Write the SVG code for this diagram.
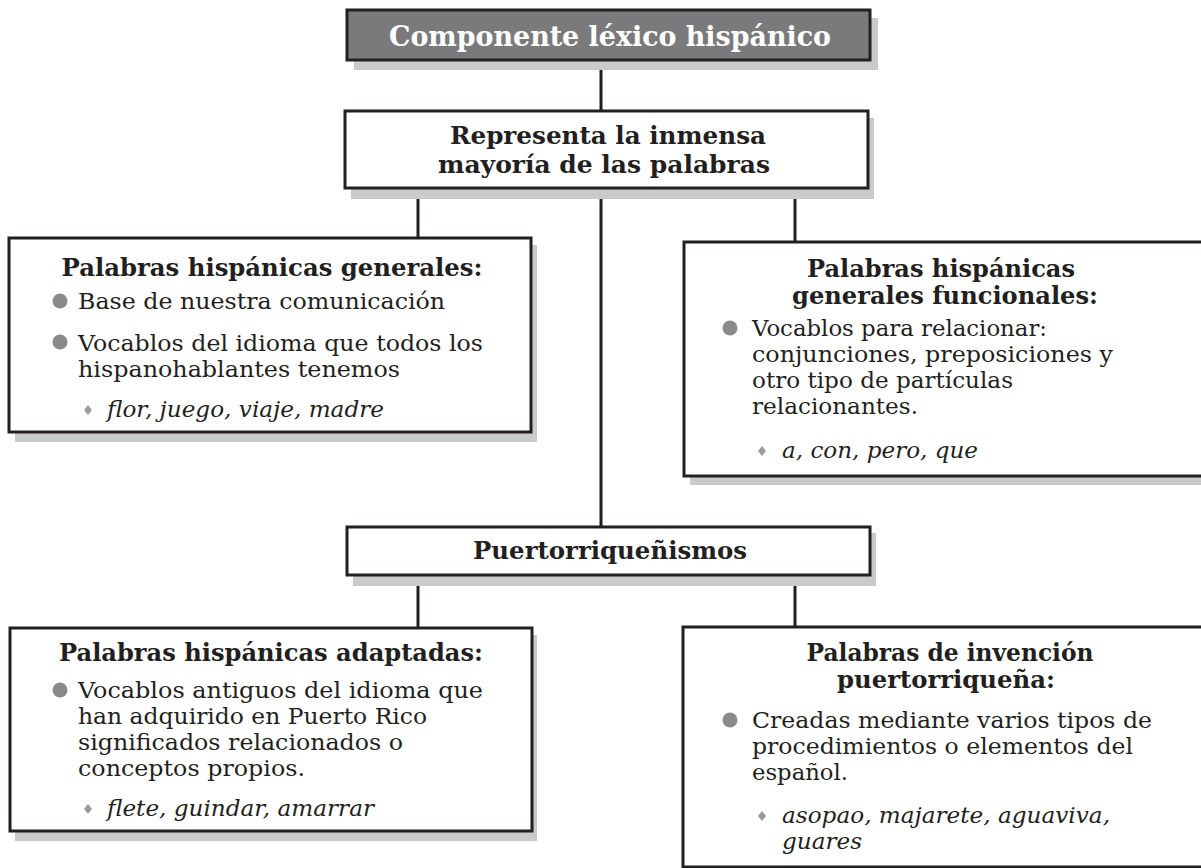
<svg xmlns="http://www.w3.org/2000/svg" width="1201" height="868" viewBox="0 0 1201 868">
<style>
.box{fill:#fff;stroke:#231f20;stroke-width:3}
.dark{fill:#7a7a7c;stroke:#231f20;stroke-width:3}
.sh{fill:#c9cacc}
.con{stroke:#231f20;stroke-width:3;fill:none}
.t{font-family:"DejaVu Serif","Liberation Serif",serif;font-weight:bold;fill:#231f20;font-size:24px;text-anchor:middle}
.tw{font-family:"DejaVu Serif","Liberation Serif",serif;font-weight:bold;fill:#fff;font-size:27px;text-anchor:middle}
.b{font-family:"DejaVu Serif","Liberation Serif",serif;fill:#231f20;font-size:22px;font-weight:300}
.i{font-family:"DejaVu Serif","Liberation Serif",serif;fill:#231f20;font-size:22px;font-style:italic;font-weight:300}
.dot{fill:#8a8a8c}
.dia{fill:#9a9a9c}
</style>
<defs>
<path id="d" d="M0,-5 L4,0 L0,5 L-4,0 Z"/>
</defs>
<g id="connectors">
<line class="con" x1="601" y1="60" x2="601" y2="111"/>
<line class="con" x1="418" y1="188" x2="418" y2="238"/>
<line class="con" x1="601" y1="188" x2="601" y2="527"/>
<line class="con" x1="795" y1="188" x2="795" y2="242"/>
<line class="con" x1="418" y1="575" x2="418" y2="628"/>
<line class="con" x1="795" y1="575" x2="795" y2="627"/>
</g>
<g id="n-top">
<rect class="sh" x="354" y="18" width="524" height="52"/>
<rect class="dark" x="347" y="10" width="523" height="50"/>
<text class="tw" x="610" y="46" textLength="442" lengthAdjust="spacingAndGlyphs">Componente léxico hispánico</text>
</g>
<g id="n-representa">
<rect class="sh" x="351" y="118" width="523" height="81"/>
<rect class="box" x="345" y="111" width="523" height="77"/>
<text class="t" x="608" y="144" textLength="316" lengthAdjust="spacingAndGlyphs">Representa la inmensa</text>
<text class="t" x="604" y="173" textLength="332" lengthAdjust="spacingAndGlyphs">mayoría de las palabras</text>
</g>
<g id="n-generales">
<rect class="sh" x="15" y="245" width="522" height="197"/>
<rect class="box" x="9" y="238" width="522" height="194"/>
<text class="t" x="272" y="276" textLength="421" lengthAdjust="spacingAndGlyphs">Palabras hispánicas generales:</text>
<circle class="dot" cx="60" cy="301" r="7.5"/>
<text class="b" x="78" y="309" textLength="367" lengthAdjust="spacingAndGlyphs">Base de nuestra comunicación</text>
<circle class="dot" cx="60" cy="342" r="7.5"/>
<text class="b" x="78" y="351" textLength="405" lengthAdjust="spacingAndGlyphs">Vocablos del idioma que todos los</text>
<text class="b" x="78" y="377" textLength="322" lengthAdjust="spacingAndGlyphs">hispanohablantes tenemos</text>
<use href="#d" class="dia" x="88" y="410"/>
<text class="i" x="107" y="417" textLength="277" lengthAdjust="spacingAndGlyphs">flor, juego, viaje, madre</text>
</g>
<g id="n-funcionales">
<rect class="sh" x="690" y="249" width="520" height="236"/>
<rect class="box" x="684" y="242" width="530" height="234"/>
<text class="t" x="941" y="277" textLength="268" lengthAdjust="spacingAndGlyphs">Palabras hispánicas</text>
<text class="t" x="945" y="304" textLength="306" lengthAdjust="spacingAndGlyphs">generales funcionales:</text>
<circle class="dot" cx="730" cy="328" r="7.5"/>
<text class="b" x="752" y="336" textLength="295" lengthAdjust="spacingAndGlyphs">Vocablos para relacionar:</text>
<text class="b" x="752" y="362" textLength="361" lengthAdjust="spacingAndGlyphs">conjunciones, preposiciones y</text>
<text class="b" x="752" y="388" textLength="261" lengthAdjust="spacingAndGlyphs">otro tipo de partículas</text>
<text class="b" x="752" y="414" textLength="166" lengthAdjust="spacingAndGlyphs">relacionantes.</text>
<use href="#d" class="dia" x="762" y="451"/>
<text class="i" x="782" y="458" textLength="196" lengthAdjust="spacingAndGlyphs">a, con, pero, que</text>
</g>
<g id="n-puerto">
<rect class="sh" x="353" y="533" width="523" height="53"/>
<rect class="box" x="347" y="527" width="523" height="48"/>
<text class="t" x="610" y="559" textLength="274" lengthAdjust="spacingAndGlyphs">Puertorriqueñismos</text>
</g>
<g id="n-adaptadas">
<rect class="sh" x="15" y="635" width="522" height="206"/>
<rect class="box" x="10" y="628" width="522" height="203"/>
<text class="t" x="271" y="661" textLength="424" lengthAdjust="spacingAndGlyphs">Palabras hispánicas adaptadas:</text>
<circle class="dot" cx="60" cy="690" r="7.5"/>
<text class="b" x="78" y="698" textLength="405" lengthAdjust="spacingAndGlyphs">Vocablos antiguos del idioma que</text>
<text class="b" x="78" y="724" textLength="349" lengthAdjust="spacingAndGlyphs">han adquirido en Puerto Rico</text>
<text class="b" x="78" y="750" textLength="325" lengthAdjust="spacingAndGlyphs">significados relacionados o</text>
<text class="b" x="78" y="776" textLength="227" lengthAdjust="spacingAndGlyphs">conceptos propios.</text>
<use href="#d" class="dia" x="88" y="809"/>
<text class="i" x="107" y="816" textLength="267" lengthAdjust="spacingAndGlyphs">flete, guindar, amarrar</text>
</g>
<g id="n-invencion">
<rect class="box" x="683" y="627" width="530" height="240"/>
<text class="t" x="950" y="661" textLength="287" lengthAdjust="spacingAndGlyphs">Palabras de invención</text>
<text class="t" x="946" y="688" textLength="218" lengthAdjust="spacingAndGlyphs">puertorriqueña:</text>
<circle class="dot" cx="730" cy="720" r="7.5"/>
<text class="b" x="752" y="728" textLength="400" lengthAdjust="spacingAndGlyphs">Creadas mediante varios tipos de</text>
<text class="b" x="752" y="754" textLength="381" lengthAdjust="spacingAndGlyphs">procedimientos o elementos del</text>
<text class="b" x="752" y="780" textLength="96" lengthAdjust="spacingAndGlyphs">español.</text>
<use href="#d" class="dia" x="762" y="816"/>
<text class="i" x="782" y="823" textLength="328" lengthAdjust="spacingAndGlyphs">asopao, majarete, aguaviva,</text>
<text class="i" x="782" y="849" textLength="80" lengthAdjust="spacingAndGlyphs">guares</text>
</g>
</svg>
